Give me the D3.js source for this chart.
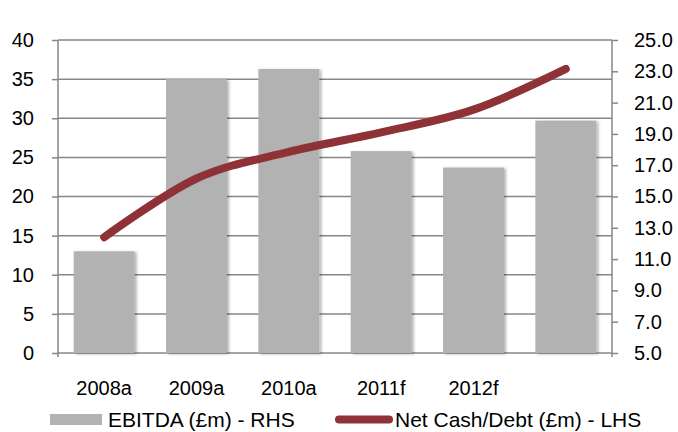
<!DOCTYPE html>
<html lang="en">
	<head>
		<meta charset="utf-8">
		<title>EBITDA and Net Cash</title>
		<script type="text/javascript" src="https://cdn.jsdelivr.net/npm/d3@7"></script>
		<style>
			body { margin: 0; background: white; }
			text {
				font-family: "Liberation Sans", Arial, sans-serif;
				fill: #000;
			}
		</style>
	</head>
	<body>
		<script type="text/javascript">
			// data
			var years = ["2008a", "2009a", "2010a", "2011f", "2012f", ""];
			var ebitda = [11.5, 22.5, 23.15, 17.9, 16.85, 19.85];   // RHS
			var netCash = [14.8, 22.3, 25.7, 28.2, 31.1, 36.3];     // LHS
			var leftTicks = [0, 5, 10, 15, 20, 25, 30, 35, 40];
			var rightTicks = [5, 7, 9, 11, 13, 15, 17, 19, 21, 23, 25];

			var w = 678;
			var h = 432;
			// plot area edges (note: "top" is reserved on window)
			var plotL = 58, plotR = 612, plotT = 40, plotB = 353;

			var svg = d3.select("body")
						.append("svg")
						.attr("width", w)
						.attr("height", h);

			var defs = svg.append("defs");
			defs.append("filter")
				.attr("id", "shadow")
				.attr("x", "-10%").attr("y", "-10%")
				.attr("width", "130%").attr("height", "130%")
				.append("feDropShadow")
				.attr("dx", 2).attr("dy", 1)
				.attr("stdDeviation", 1.5)
				.attr("flood-color", "#000")
				.attr("flood-opacity", 0.3);

			var xScale = d3.scaleBand()
						   .domain(d3.range(years.length))
						   .range([plotL, plotR])
						   .padding(0);
			var yLeft = d3.scaleLinear()
						  .domain([0, 40])
						  .range([plotB, plotT]);
			var yRight = d3.scaleLinear()
						   .domain([5, 25])
						   .range([plotB, plotT]);

			var barW = xScale.bandwidth() * 0.66;

			// gridlines
			svg.append("g")
			   .selectAll("line")
			   .data(leftTicks)
			   .enter()
			   .append("line")
			   .attr("x1", plotL)
			   .attr("x2", plotR)
			   .attr("y1", function(d){ return yLeft(d); })
			   .attr("y2", function(d){ return yLeft(d); })
			   .attr("stroke", "#878787")
			   .attr("stroke-width", 1.5);

			// bars
			svg.append("g")
			   .selectAll("rect")
			   .data(ebitda)
			   .enter()
			   .append("rect")
			   .attr("x", function(d, i){
					return xScale(i) + (xScale.bandwidth() - barW) / 2;
				})
			   .attr("y", function(d){ return yRight(d); })
			   .attr("width", barW)
			   .attr("height", function(d){ return plotB - yRight(d); })
			   .attr("fill", "#b2b2b2")
			   .attr("filter", "url(#shadow)");

			// axes
			var axisL = svg.append("g")
						   .attr("transform", "translate(" + plotL + ",0)")
						   .call(d3.axisLeft(yLeft).tickValues(leftTicks).tickSize(6).tickPadding(18));
			var axisR = svg.append("g")
						   .attr("transform", "translate(" + plotR + ",0)")
						   .call(d3.axisRight(yRight).tickValues(rightTicks).tickSize(6)
								.tickPadding(16).tickFormat(d3.format(".1f")));
			[axisL, axisR].forEach(function(a){
				a.select(".domain").remove();
				a.selectAll(".tick line").attr("stroke", "#878787").attr("stroke-width", 1.5);
				a.selectAll("text").attr("font-size", "20px").attr("fill", "#000")
				 .attr("font-family", "Liberation Sans, Arial, sans-serif");
			});
			svg.append("line")
			   .attr("x1", plotL).attr("x2", plotL)
			   .attr("y1", plotT).attr("y2", plotB + 4)
			   .attr("stroke", "#878787").attr("stroke-width", 1.5);
			svg.append("line")
			   .attr("x1", plotR).attr("x2", plotR)
			   .attr("y1", plotT).attr("y2", plotB + 4)
			   .attr("stroke", "#878787").attr("stroke-width", 1.5);

			// x labels
			svg.append("g")
			   .selectAll("text")
			   .data(years)
			   .enter()
			   .append("text")
			   .text(function(d){ return d; })
			   .attr("x", function(d, i){ return xScale(i) + xScale.bandwidth() / 2; })
			   .attr("y", 395)
			   .attr("text-anchor", "middle")
			   .attr("font-size", "20px");

			// net cash line
			var line = d3.line()
						 .x(function(d, i){ return xScale(i) + xScale.bandwidth() / 2; })
						 .y(function(d){ return yLeft(d); })
						 .curve(d3.curveCatmullRom.alpha(0));
			svg.append("path")
			   .datum(netCash)
			   .attr("d", line)
			   .attr("fill", "none")
			   .attr("stroke", "#8e3237")
			   .attr("stroke-width", 8)
			   .attr("stroke-linecap", "round")
			   .attr("stroke-linejoin", "round");

			// legend
			var leg = svg.append("g");
			leg.append("rect")
			   .attr("x", 50).attr("y", 414)
			   .attr("width", 52).attr("height", 11)
			   .attr("fill", "#b2b2b2");
			leg.append("text")
			   .attr("x", 108).attr("y", 427)
			   .attr("font-size", "21px")
			   .text("EBITDA (£m) - RHS");
			leg.append("line")
			   .attr("x1", 339).attr("x2", 389)
			   .attr("y1", 419.5).attr("y2", 419.5)
			   .attr("stroke", "#8e3237")
			   .attr("stroke-width", 8)
			   .attr("stroke-linecap", "round");
			leg.append("text")
			   .attr("x", 395).attr("y", 427)
			   .attr("font-size", "21px")
			   .text("Net Cash/Debt (£m) - LHS");
		</script>
	</body>
</html>
